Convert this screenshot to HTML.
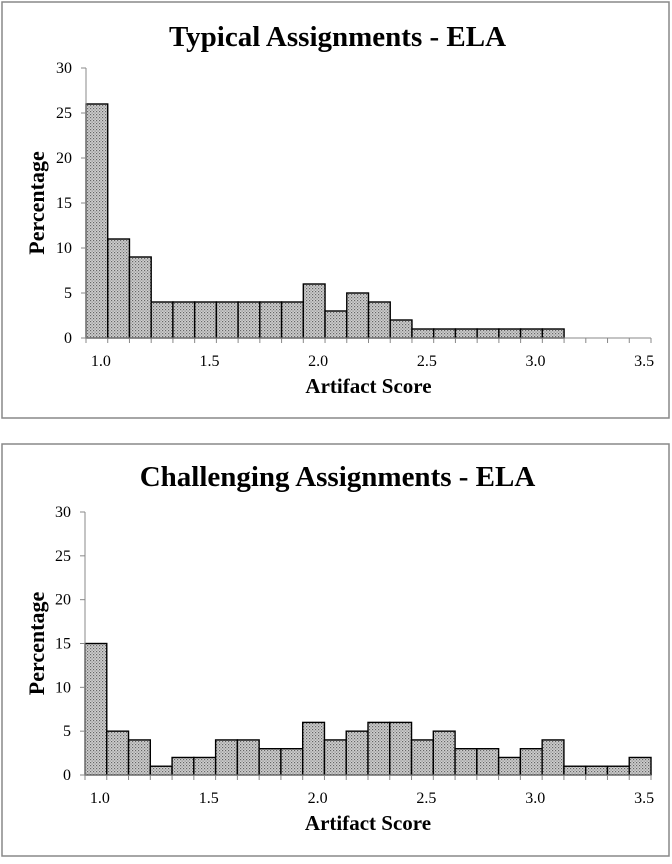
<!DOCTYPE html>
<html><head><meta charset="utf-8"><style>
body{margin:0;background:#fff;width:672px;height:859px;overflow:hidden}
svg text{font-family:"Liberation Serif",serif}
</style></head><body>
<svg width="672" height="859">
<defs>
<pattern id="hatch" width="3" height="3" patternUnits="userSpaceOnUse">
<rect width="3" height="3" fill="#cfcfcf"/><rect width="1.2" height="1.2" fill="#666"/><rect x="1.5" y="1.5" width="1.2" height="1.2" fill="#888"/>
</pattern>
</defs>
<g id="top"></g>
<g id="bot"></g>
</svg>
<script>
const binLabels=["1.0","1.5","2.0","2.5","3.0","3.5"];
const yTicks=[0,5,10,15,20,25,30];
const typicalValues=[26,11,9,4,4,4,4,4,4,4,6,3,5,4,2,1,1,1,1,1,1,1,0,0,0,0];
const challengingValues=[15,5,4,1,2,2,4,4,3,3,6,4,5,6,6,4,5,3,3,2,3,4,1,1,1,2];
const NS="http://www.w3.org/2000/svg";
function mk(p,t,a,txt){const e=document.createElementNS(NS,t);for(const k in a)e.setAttribute(k,a[k]);if(txt!==undefined)e.textContent=txt;p.appendChild(e);return e;}
function draw(g,cfg){
  const {panel,title,titleY,x0,x1,y0,y30,vals}=cfg;
  const n=vals.length,bw=(x1-x0)/n;
  const xs=i=>x0+i*bw, ys=v=>y0-(v/30)*(y0-y30);
  let e=mk(g,'rect',{x:panel[0],y:panel[1],width:panel[2],height:panel[3],fill:'#fff',stroke:'#888','stroke-width':1.5});
  
  e=mk(g,'text',{x:(panel[0]+panel[2]/2+2),y:titleY,'text-anchor':'middle','font-size':29,'font-weight':'bold'},title);
  
  vals.forEach((v,i)=>{if(v<=0)return;
    const b=mk(g,'rect',{x:xs(i),y:ys(v),width:bw,height:y0-ys(v),fill:'url(#hatch)',stroke:'#000','stroke-width':1.4});
    });
  mk(g,'line',{x1:x0,y1:y30,x2:x0,y2:y0,stroke:'#888'});
  mk(g,'line',{x1:x0,y1:y0,x2:x1,y2:y0,stroke:'#888'});
  yTicks.forEach(t=>{mk(g,'line',{x1:x0-5,y1:ys(t),x2:x0,y2:ys(t),stroke:'#888'});
    const l=mk(g,'text',{x:x0-14,y:ys(t)+5,'text-anchor':'end','font-size':16},t);
    });
  for(let i=0;i<=n;i++)mk(g,'line',{x1:xs(i),y1:y0,x2:xs(i),y2:y0+5,stroke:'#888'});
  binLabels.forEach((s,k)=>{const l=mk(g,'text',{x:xs(k*5)+bw/2+4,y:y0+28,'text-anchor':'middle','font-size':16},s);
    });
  e=mk(g,'text',{x:(x0+x1)/2,y:y0+55,'text-anchor':'middle','font-size':21,'font-weight':'bold'},'Artifact Score');
  
  const cy=(y0+y30)/2;
  e=mk(g,'text',{x:44,y:cy,'text-anchor':'middle','font-size':22,'font-weight':'bold',transform:`rotate(-90 44 ${cy})`},'Percentage');
  
}
draw(document.getElementById('top'),{panel:[2,2,667,416],title:'Typical Assignments - ELA',titleY:46,x0:86,x1:651,y0:338,y30:68,vals:typicalValues});
draw(document.getElementById('bot'),{panel:[2,444,667,412],title:'Challenging Assignments - ELA',titleY:486,x0:85,x1:651,y0:775,y30:512,vals:challengingValues});
</script>
</body></html>
